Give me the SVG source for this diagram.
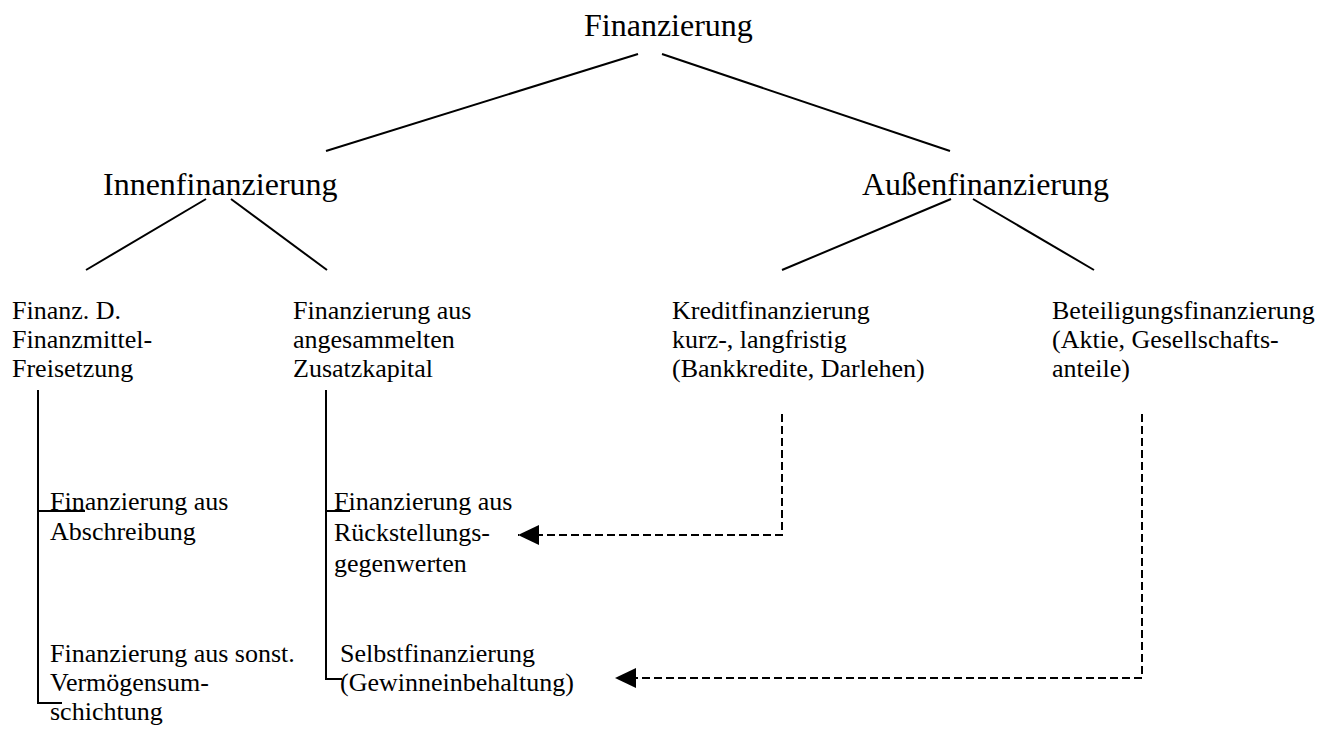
<svg xmlns="http://www.w3.org/2000/svg" width="1333" height="729" viewBox="0 0 1333 729">
<style>
text{font-family:"Liberation Serif","Times New Roman",serif;fill:#000}
.big{font-size:32px}
.sm{font-size:26px}
.ln{stroke:#000;stroke-width:2;fill:none}
.dash{stroke:#000;stroke-width:2;fill:none;stroke-dasharray:8 4}
</style>
<defs>
<marker id="arr" markerUnits="userSpaceOnUse" markerWidth="22" markerHeight="22" refX="21" refY="10" orient="auto">
<path d="M0,0 L21,10 L0,20 Z" fill="#000"/>
</marker>
</defs>
<rect width="1333" height="729" fill="#fff"/>
<g id="connectors">
<line class="ln" x1="638" y1="54" x2="326" y2="151"/>
<line class="ln" x1="662" y1="54" x2="950" y2="151"/>
<line class="ln" x1="206" y1="199" x2="86" y2="270"/>
<line class="ln" x1="231" y1="199" x2="327" y2="270"/>
<line class="ln" x1="951" y1="199" x2="782" y2="270"/>
<line class="ln" x1="973" y1="199" x2="1094" y2="270"/>
<path class="ln" d="M38,390 V703 H62 M38,511 H85"/>
<path class="ln" d="M326,390 V679 H342 M326,511 H350"/>
<path class="dash" d="M782,414 V535 H518" marker-end="url(#arr)"/>
<path class="dash" d="M1142,414 V678 H615" marker-end="url(#arr)"/>
</g>
<g id="finanzierung"><text class="big" x="584" y="36">Finanzierung</text></g>
<g id="innenfinanzierung"><text class="big" x="103" y="195">Innenfinanzierung</text></g>
<g id="aussenfinanzierung"><text class="big" x="862" y="195">Außenfinanzierung</text></g>
<g id="freisetzung"><text class="sm" x="12" y="319">Finanz. D.</text><text class="sm" x="12" y="348">Finanzmittel-</text><text class="sm" x="12" y="377">Freisetzung</text></g>
<g id="zusatzkapital"><text class="sm" x="293" y="319">Finanzierung aus</text><text class="sm" x="293" y="348">angesammelten</text><text class="sm" x="293" y="377">Zusatzkapital</text></g>
<g id="kreditfinanzierung"><text class="sm" x="672" y="319">Kreditfinanzierung</text><text class="sm" x="672" y="348">kurz-, langfristig</text><text class="sm" x="672" y="377">(Bankkredite, Darlehen)</text></g>
<g id="beteiligungsfinanzierung"><text class="sm" x="1052" y="319">Beteiligungsfinanzierung</text><text class="sm" x="1052" y="348">(Aktie, Gesellschafts-</text><text class="sm" x="1052" y="377">anteile)</text></g>
<g id="abschreibung"><text class="sm" x="50" y="510">Finanzierung aus</text><text class="sm" x="50" y="540">Abschreibung</text></g>
<g id="vermoegensumschichtung"><text class="sm" x="50" y="662">Finanzierung aus sonst.</text><text class="sm" x="50" y="691">Vermögensum-</text><text class="sm" x="50" y="720">schichtung</text></g>
<g id="rueckstellungen"><text class="sm" x="334" y="510">Finanzierung aus</text><text class="sm" x="334" y="541">Rückstellungs-</text><text class="sm" x="334" y="572">gegenwerten</text></g>
<g id="selbstfinanzierung"><text class="sm" x="340" y="662">Selbstfinanzierung</text><text class="sm" x="340" y="691">(Gewinneinbehaltung)</text></g>
</svg>
